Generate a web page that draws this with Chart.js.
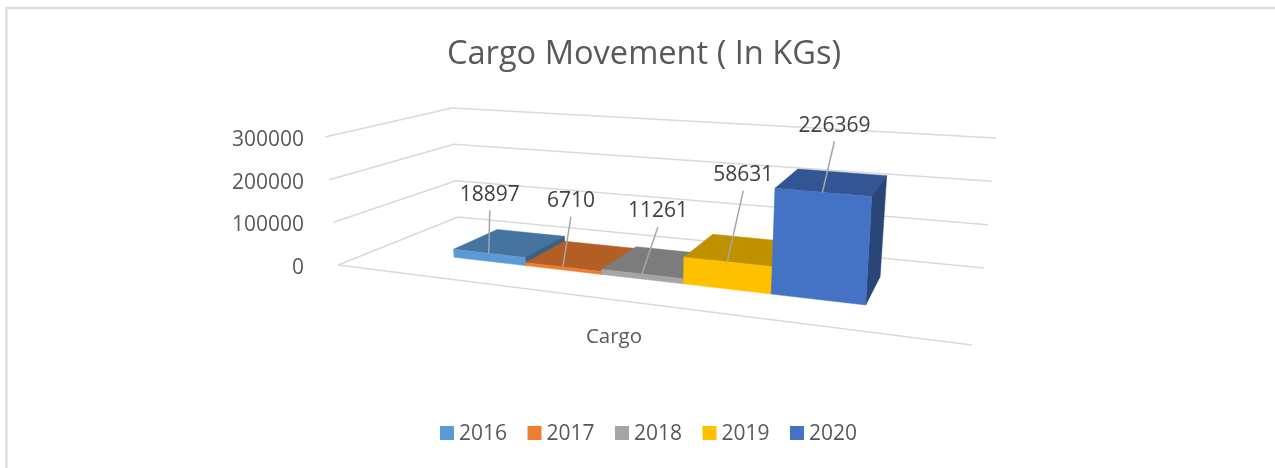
<!DOCTYPE html>
<html>
<head>
<meta charset="utf-8">
<title>Cargo Movement</title>
<script src="https://cdn.jsdelivr.net/npm/chart.js@4"></script>
<style>
    html, body { margin: 0; padding: 0; background: #fff; }
    canvas { display: block; }
</style>
</head>
<body>
<canvas id="cargoChart" width="1275" height="468"></canvas>
<script>
var categories = ['Cargo'];
var years = ['2016', '2017', '2018', '2019', '2020'];
var cargoValues = [18897, 6710, 11261, 58631, 226369];
var yTicks = [0, 100000, 200000, 300000];

var barColors = ['#5B9BD5', '#ED7D31', '#A5A5A5', '#FFC000', '#4472C4'];
var topColors = ['#44749F', '#B25E25', '#7C7C7C', '#BF9000', '#335593'];
var sideColors = ['#386085', '#934D1E', '#666666', '#9E7700', '#2A4679'];

// leader line end, relative to the middle of the bar's top front edge
var leaderOffsets = [[1, -43], [8, -50], [16, -47], [16, -71], [12, -51]];

var fontName = '"Open Sans", sans-serif';
var gridColor = '#D9D9D9';

// the box of the 3D chart as it appears on the page
var floor = { fl: [338, 265], fr: [972, 345], br: [984, 268], bl: [458, 217] };
var rise = { fl: [-13, -128], fr: [11, -155], br: [12, -130], bl: [-6, -109] };
var depthFront = 0.3;
var depthBack = 0.7;
var barShift = 0.003;

function makeFloorMap(q) {
    var dx1 = q.fr[0] - q.br[0], dx2 = q.bl[0] - q.br[0];
    var sx = q.fl[0] - q.fr[0] + q.br[0] - q.bl[0];
    var dy1 = q.fr[1] - q.br[1], dy2 = q.bl[1] - q.br[1];
    var sy = q.fl[1] - q.fr[1] + q.br[1] - q.bl[1];
    var den = dx1 * dy2 - dx2 * dy1;
    var g = (sx * dy2 - dx2 * sy) / den;
    var h = (dx1 * sy - sx * dy1) / den;
    var a = q.fr[0] - q.fl[0] + g * q.fr[0];
    var b = q.bl[0] - q.fl[0] + h * q.bl[0];
    var d = q.fr[1] - q.fl[1] + g * q.fr[1];
    var e = q.bl[1] - q.fl[1] + h * q.bl[1];
    return function(u, w) {
        var n = 1 + g * u + h * w;
        return [(a * u + b * w + q.fl[0]) / n, (d * u + e * w + q.fl[1]) / n];
    };
}
var floorMap = makeFloorMap(floor);

// u: along the category axis, v: along the value axis, w: depth (all 0..1)
function project(u, v, w) {
    var p = floorMap(u, w);
    var out = [];
    for (var i = 0; i < 2; i++) {
        var front = rise.fl[i] + (rise.fr[i] - rise.fl[i]) * u;
        var back = rise.bl[i] + (rise.br[i] - rise.bl[i]) * u;
        out.push(p[i] + v * (front + (back - front) * w));
    }
    return out;
}

function fillFace(ctx, color, pts) {
    ctx.fillStyle = color;
    ctx.strokeStyle = color;
    ctx.lineWidth = 0.5;
    ctx.beginPath();
    pts.forEach(function(p, i) {
        if (i === 0) ctx.moveTo(p[0], p[1]);
        else ctx.lineTo(p[0], p[1]);
    });
    ctx.closePath();
    ctx.fill();
    ctx.stroke();
}

function strokeLine(ctx, pts) {
    ctx.beginPath();
    pts.forEach(function(p, i) {
        if (i === 0) ctx.moveTo(p[0], p[1]);
        else ctx.lineTo(p[0], p[1]);
    });
    ctx.stroke();
}

var box3d = {
    id: 'box3d',
    beforeDraw: function(chart) {
        var ctx = chart.ctx;
        ctx.save();
        ctx.strokeStyle = gridColor;
        ctx.lineWidth = 2;
        strokeLine(ctx, [[6.5, 468], [6.5, 8], [1275, 8]]);
        ctx.restore();
    },
    beforeDatasetsDraw: function(chart) {
        var ctx = chart.ctx;
        var area = chart.chartArea;
        var yScale = chart.scales.y;
        var fracV = function(pix) { return (area.bottom - pix) / (area.bottom - area.top); };
        var fracU = function(pix) { return (pix - area.left) / (area.right - area.left) + barShift; };

        ctx.save();
        ctx.strokeStyle = gridColor;
        ctx.lineWidth = 1.5;
        yScale.ticks.forEach(function(t) {
            var v = fracV(yScale.getPixelForValue(t.value));
            strokeLine(ctx, [project(0, v, 0), project(0, v, 1), project(1, v, 1)]);
        });
        strokeLine(ctx, [project(0, 0, 0), project(1, 0, 0)]);

        var anchors = [];
        chart.data.datasets.forEach(function(ds, i) {
            var el = chart.getDatasetMeta(i).data[0];
            var u0 = fracU(el.x - el.width / 2);
            var u1 = fracU(el.x + el.width / 2);
            var v = fracV(el.y);
            var f = depthFront, b = depthBack;
            fillFace(ctx, topColors[i], [project(u0, v, f), project(u1, v, f), project(u1, v, b), project(u0, v, b)]);
            fillFace(ctx, sideColors[i], [project(u1, 0, f), project(u1, 0, b), project(u1, v, b), project(u1, v, f)]);
            fillFace(ctx, barColors[i], [project(u0, 0, f), project(u1, 0, f), project(u1, v, f), project(u0, v, f)]);
            anchors.push({ p: project((u0 + u1) / 2, v, f), text: String(ds.data[0]) });
        });

        // leader lines and value labels
        ctx.font = '21px ' + fontName;
        ctx.textAlign = 'center';
        ctx.textBaseline = 'middle';
        anchors.forEach(function(a, i) {
            var end = [a.p[0] + leaderOffsets[i][0], a.p[1] + leaderOffsets[i][1]];
            ctx.strokeStyle = '#A6A6A6';
            ctx.lineWidth = 1.5;
            strokeLine(ctx, [a.p, end]);
            ctx.fillStyle = '#404040';
            ctx.fillText(a.text, end[0], end[1] - 15.5);
        });

        // legend, the gap between swatch and text is tighter than the built-in one
        ctx.textAlign = 'left';
        chart.data.datasets.forEach(function(ds, i) {
            var x = 440 + i * 87.5;
            ctx.fillStyle = barColors[i];
            ctx.fillRect(x, 426, 14, 14);
            ctx.fillStyle = '#595959';
            ctx.fillText(ds.label, x + 19, 434.5);
        });
        ctx.restore();
        return false;
    }
};

var datasets = years.map(function(year, i) {
    return { label: year, data: [cargoValues[i]], backgroundColor: barColors[i] };
});

new Chart(document.getElementById('cargoChart').getContext('2d'), {
    type: 'bar',
    data: { labels: categories, datasets: datasets },
    plugins: [box3d],
    options: {
        responsive: false,
        animation: false,
        categoryPercentage: 0.694,
        barPercentage: 1,
        layout: { autoPadding: false, padding: { left: 13, right: 0, top: 0, bottom: 0 } },
        plugins: {
            legend: { display: false },
            tooltip: { enabled: false },
            title: {
                display: true,
                text: 'Cargo Movement ( In KGs)',
                color: '#595959',
                font: { family: fontName, size: 32.6, weight: 'normal', lineHeight: 1.2 },
                padding: { top: 35, bottom: 66 }
            }
        },
        scales: {
            x: {
                grid: { display: false },
                border: { display: false },
                ticks: { color: '#595959', padding: 49, font: { family: fontName, size: 20.5 } },
                afterFit: function(s) { s.height = 200; }
            },
            y: {
                min: 0,
                max: 300000,
                grid: { display: false },
                border: { display: false },
                afterBuildTicks: function(s) { s.ticks = yTicks.map(function(v) { return { value: v }; }); },
                ticks: {
                    color: '#595959',
                    padding: 1,
                    font: { family: fontName, size: 21 },
                    callback: function(v) { return String(v); }
                },
                afterFit: function(s) { s.width = 300; }
            },
            // keeps the plot area off the right side so the category label sits where it should
            spacer: {
                position: 'right',
                grid: { display: false },
                border: { display: false },
                ticks: { display: false },
                afterFit: function(s) { s.width = 360; }
            }
        }
    }
});
</script>
</body>
</html>
